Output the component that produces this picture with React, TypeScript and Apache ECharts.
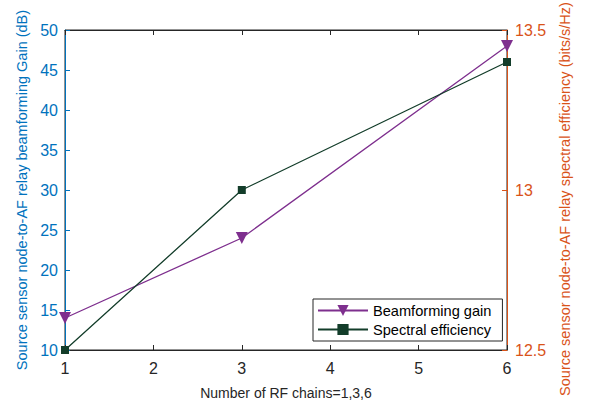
import React, { useEffect, useRef } from "react";
import * as echarts from "echarts";

const rfChains = [1, 3, 6];
const beamformingGain = [14, 24, 48];
const spectralEfficiency = [12.5, 13.0, 13.4];
const xTicks = [1, 2, 3, 4, 5, 6];

const FONT = "Liberation Sans, Arial, sans-serif";
const AX = "#262626";
const BLUE = "#0072BD";
const ORANGE = "#D95319";
const PURPLE = "#7E2F8E";
const GREEN = "#133D2A";

export default function App() {
  const ref = useRef<HTMLDivElement>(null);
  useEffect(() => {
    const chart = echarts.init(ref.current!, null, { renderer: "svg" });
    chart.setOption({
      animation: false,
      backgroundColor: "#fff",
      textStyle: { fontFamily: FONT },
      grid: {
        left: 65,
        right: 83,
        top: 30,
        bottom: 54,
        show: true,
        borderColor: AX,
        borderWidth: 1,
        backgroundColor: "transparent",
        containLabel: false,
        outerBoundsMode: "none",
      },
      legend: {
        left: 313,
        top: 299,
        orient: "vertical",
        backgroundColor: "#fff",
        borderColor: AX,
        borderWidth: 1,
        padding: [4, 11, 4, 4],
        itemGap: 4,
        itemWidth: 50,
        itemHeight: 14,
        textStyle: { fontSize: 14.6, color: "#000", fontFamily: FONT },
        data: ["Beamforming gain", "Spectral efficiency"],
      },
      xAxis: [
        {
          type: "value",
          min: xTicks[0],
          max: xTicks[xTicks.length - 1],
          interval: 1,
          name: "Number of RF chains=1,3,6",
          nameLocation: "middle",
          nameGap: 36,
          nameTextStyle: { fontSize: 14, color: AX, fontFamily: FONT },
          axisLine: { lineStyle: { color: AX } },
          axisTick: { inside: true, length: 5, lineStyle: { color: AX } },
          axisLabel: { fontSize: 16, color: AX, margin: 10, fontFamily: FONT },
          splitLine: { show: false },
        },
        {
          type: "value",
          position: "top",
          min: xTicks[0],
          max: xTicks[xTicks.length - 1],
          interval: 1,
          axisLine: { show: true, lineStyle: { color: AX } },
          axisTick: { inside: true, length: 5, lineStyle: { color: AX } },
          axisLabel: { show: false },
          splitLine: { show: false },
        },
      ],
      yAxis: [
        {
          type: "value",
          min: 10,
          max: 50,
          interval: 5,
          position: "left",
          name: "Source sensor node-to-AF relay beamforming Gain (dB)",
          nameLocation: "middle",
          nameGap: 32,
          nameTextStyle: { fontSize: 14.5, color: BLUE, fontFamily: FONT },
          axisLine: { show: true, lineStyle: { color: BLUE } },
          axisTick: { show: true, inside: true, length: 5, lineStyle: { color: BLUE } },
          axisLabel: { fontSize: 16, color: BLUE, margin: 7, fontFamily: FONT },
          splitLine: { show: false },
        },
        {
          type: "value",
          min: 12.5,
          max: 13.5,
          interval: 0.5,
          position: "right",
          name: "Source sensor node-to-AF relay spectral efficiency (bits/s/Hz)",
          nameLocation: "middle",
          nameGap: 50,
          nameRotate: 90,
          nameTextStyle: { fontSize: 14.5, color: ORANGE, fontFamily: FONT, padding: [0, 18, 0, 0] },
          axisLine: { show: true, lineStyle: { color: ORANGE } },
          axisTick: { show: true, inside: true, length: 5, lineStyle: { color: ORANGE } },
          axisLabel: { fontSize: 16, color: ORANGE, margin: 8, fontFamily: FONT },
          splitLine: { show: false },
        },
      ],
      series: [
        {
          name: "Beamforming gain",
          type: "line",
          yAxisIndex: 0,
          data: rfChains.map((x, i) => [x, beamformingGain[i]]),
          color: PURPLE,
          lineStyle: { width: 1.3, color: PURPLE },
          symbol: "triangle",
          symbolRotate: 180,
          symbolSize: 12,
          itemStyle: { color: PURPLE },
          z: 3,
        },
        {
          name: "Spectral efficiency",
          type: "line",
          yAxisIndex: 1,
          data: rfChains.map((x, i) => [x, spectralEfficiency[i]]),
          color: GREEN,
          lineStyle: { width: 1.3, color: GREEN },
          symbol: "rect",
          symbolSize: 8,
          itemStyle: { color: GREEN },
          z: 3,
        },
      ],
    });
    return () => chart.dispose();
  }, []);
  return <div ref={ref} style={{ width: 590, height: 404, position: "absolute", left: 0, top: 0 }} />;
}
